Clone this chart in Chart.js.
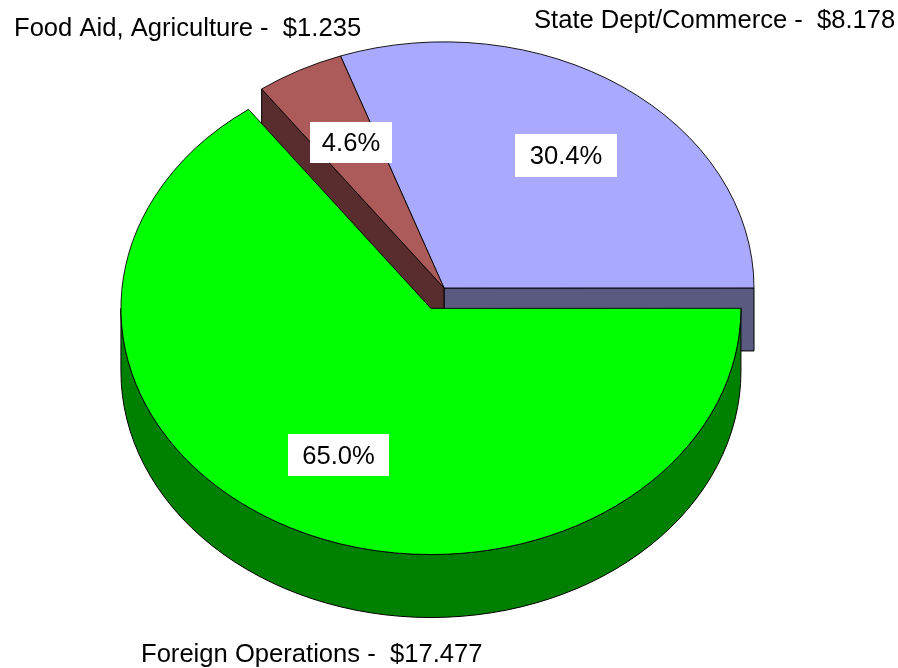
<!DOCTYPE html>
<html>
<head>
<meta charset="utf-8">
<style>
  html, body { margin: 0; padding: 0; background: #fff; }
  canvas { display: block; }
</style>
<script src="https://cdn.jsdelivr.net/npm/chart.js@4"></script>
</head>
<body>
<canvas id="myChart" width="898" height="668"></canvas>
<script>
const categories = ['State Dept/Commerce', 'Foreign Operations', 'Food Aid, Agriculture'];
const amounts = [8.178, 17.477, 1.235];
const percentLabels = ['30.4%', '65.0%', '4.6%'];

const topColors = ['#a9a9ff', '#00ff00', '#ad5a5a'];
const wallColors = ['#5a5a80', '#008000', '#592d2d'];

// pie look: squash, thickness, how far each slice is pulled out
const squash = 0.794;
const depth = 63;
const explode = [0, 28.8, 0];
const font = '25.6px "Liberation Sans", Arial, sans-serif';

// where the text goes
const outerLabelPos = [[534, 28, 'left'], [141, 662, 'left'], [14, 36, 'left']];
const percentBoxes = [[515, 134, 102, 43], [288, 434, 101, 42], [310, 122, 82, 41]];

function sliceCenter(arc, i) {
  let mid = (arc.startAngle + arc.endAngle) / 2;
  return {
    x: arc.x + Math.cos(mid) * explode[i],
    y: arc.y + Math.sin(mid) * explode[i] * squash
  };
}

// flat cut face of a slice, from the centre out to the rim at one angle
function radialWall(ctx, arc, i, angle) {
  let c = sliceCenter(arc, i);
  let ex = c.x + Math.cos(angle) * arc.outerRadius;
  let ey = c.y + Math.sin(angle) * arc.outerRadius * squash;
  ctx.beginPath();
  ctx.moveTo(c.x, c.y);
  ctx.lineTo(ex, ey);
  ctx.lineTo(ex, ey + depth);
  ctx.lineTo(c.x, c.y + depth);
  ctx.closePath();
  ctx.fillStyle = wallColors[i];
  ctx.fill();
  ctx.stroke();
}

// curved side of a slice
function rimWall(ctx, arc, i, from, to) {
  let c = sliceCenter(arc, i);
  let r = arc.outerRadius;
  ctx.beginPath();
  ctx.ellipse(c.x, c.y, r, r * squash, 0, from, to);
  ctx.ellipse(c.x, c.y + depth, r, r * squash, 0, to, from, true);
  ctx.closePath();
  ctx.fillStyle = wallColors[i];
  ctx.fill();
  ctx.stroke();
}

function drawTop(ctx, arc, i) {
  let c = sliceCenter(arc, i);
  ctx.save();
  ctx.translate(c.x, c.y);
  ctx.scale(1, squash);
  ctx.translate(-arc.x, -arc.y);
  arc.draw(ctx);
  ctx.restore();
}

const pie3d = {
  id: 'pie3d',
  beforeDatasetDraw(chart, args) {
    let ctx = chart.ctx;
    let arcs = args.meta.data;
    ctx.save();
    ctx.strokeStyle = '#000';
    ctx.lineWidth = 1;
    // back to front so the green slice ends up over the others
    radialWall(ctx, arcs[0], 0, arcs[0].endAngle);
    radialWall(ctx, arcs[2], 2, arcs[2].startAngle);
    drawTop(ctx, arcs[0], 0);
    drawTop(ctx, arcs[2], 2);
    rimWall(ctx, arcs[1], 1, 0, Math.PI);
    drawTop(ctx, arcs[1], 1);
    ctx.restore();
    return false;
  },
  afterDraw(chart) {
    let ctx = chart.ctx;
    ctx.save();
    ctx.font = font;
    ctx.fillStyle = '#000';
    ctx.textBaseline = 'alphabetic';
    categories.forEach(function(name, i) {
      let p = outerLabelPos[i];
      ctx.textAlign = p[2];
      ctx.fillText(name + ' -  $' + amounts[i].toFixed(3), p[0], p[1]);
    });
    percentLabels.forEach(function(txt, i) {
      let b = percentBoxes[i];
      ctx.fillStyle = '#fff';
      ctx.fillRect(b[0], b[1], b[2], b[3]);
      ctx.fillStyle = '#000';
      ctx.textAlign = 'center';
      ctx.fillText(txt, b[0] + b[2] / 2, b[1] + b[3] / 2 + 8.5);
    });
    ctx.restore();
  }
};

const myChart = new Chart(document.getElementById('myChart'), {
  type: 'pie',
  plugins: [pie3d],
  data: {
    labels: categories,
    datasets: [{
      data: amounts,
      backgroundColor: topColors,
      borderColor: '#000',
      borderWidth: 1,
      radius: 310
    }]
  },
  options: {
    responsive: false,
    animation: false,
    rotation: -19.5,
    layout: { padding: { right: 10, bottom: 92 } },
    plugins: {
      legend: { display: false },
      title: { display: false },
      tooltip: { enabled: false }
    }
  }
});
</script>
</body>
</html>
